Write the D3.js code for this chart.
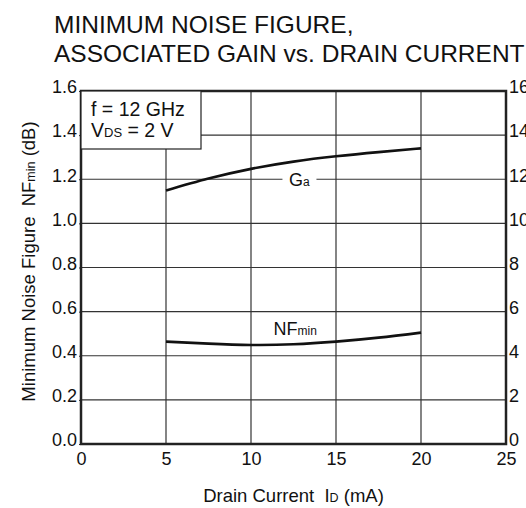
<!DOCTYPE html>
<html>
<head>
<meta charset="utf-8">
<script src="https://cdn.jsdelivr.net/npm/d3@7"></script>
<style>
  html, body { margin: 0; padding: 0; background: #fff; }
  #chart { width: 526px; height: 508px; overflow: hidden; }
  text { font-family: "Liberation Sans", Arial, Helvetica, sans-serif; fill: #111; white-space: pre; }
</style>
</head>
<body>
<div id="chart"></div>
<script>
// drain current (mA)
const current = [5, 7.5, 10, 12.5, 15, 17.5, 20];
// minimum noise figure (dB), left axis
const nfMin = [0.464, 0.455, 0.449, 0.452, 0.464, 0.482, 0.505];
// associated gain (dB), right axis
const gainA = [11.49, 12.03, 12.47, 12.80, 13.04, 13.23, 13.40];

const xTicks = [0, 5, 10, 15, 20, 25];
const yLeftTicks = [0.0, 0.2, 0.4, 0.6, 0.8, 1.0, 1.2, 1.4, 1.6];
const yRightTicks = [0, 2, 4, 6, 8, 10, 12, 14, 16];

const chart = {};
chart.width_svg = 526;
chart.height_svg = 508;
chart.margin = {top: 91, right: 20, bottom: 64, left: 81};

chart.svg = d3.select('#chart')
              .append('svg')
              .attr('width', chart.width_svg)
              .attr('height', chart.height_svg);

chart.draw = function(){
  let margin = this.margin,
      width_svg = this.width_svg,
      height_svg = this.height_svg,
      svg = this.svg;
  let x0 = margin.left, x1 = width_svg - margin.right,
      y0 = height_svg - margin.bottom, y1 = margin.top;

  let xScale = d3.scaleLinear().domain([0, 25]).range([x0, x1]);
  let yLeft = d3.scaleLinear().domain([0, 1.6]).range([y0, y1]);
  let yRight = d3.scaleLinear().domain([0, 16]).range([y0, y1]);

  // title
  let title = svg.append('g').attr('font-size', 24.5);
  title.append('text').attr('x', 54).attr('y', 33).text('MINIMUM NOISE FIGURE,');
  title.append('text').attr('x', 54).attr('y', 62).text('ASSOCIATED GAIN vs. DRAIN CURRENT');

  // grid
  let grid = svg.append('g').attr('stroke', '#333').attr('stroke-width', 1.2);
  grid.selectAll('line.v')
      .data(xTicks.slice(1, -1))
      .enter().append('line')
      .attr('x1', d => xScale(d)).attr('x2', d => xScale(d))
      .attr('y1', y1).attr('y2', y0);
  grid.selectAll('line.h')
      .data(yLeftTicks.slice(1, -1))
      .enter().append('line')
      .attr('x1', x0).attr('x2', x1)
      .attr('y1', d => yLeft(d)).attr('y2', d => yLeft(d));

  // left axis
  svg.append('g')
     .attr('transform', `translate(${x0}, 0)`)
     .call(d3.axisLeft(yLeft).tickValues(yLeftTicks).tickFormat(d3.format('.1f')).tickSize(2).tickPadding(2))
     .call(g => g.select('.domain').remove())
     .call(g => g.selectAll('.tick line').attr('stroke', '#333'))
     .call(g => g.selectAll('.tick text').attr('font-size', 18).attr('font-family', null).attr('fill', '#111').attr('dy', '0.1em'));

  // right axis
  svg.append('g')
     .attr('transform', `translate(${x1}, 0)`)
     .call(d3.axisRight(yRight).tickValues(yRightTicks).tickFormat(d3.format('d')).tickSize(0).tickPadding(3))
     .call(g => g.select('.domain').remove())
     .call(g => g.selectAll('.tick text').attr('font-size', 18).attr('font-family', null).attr('fill', '#111').attr('dy', '0.1em'));

  // bottom axis
  svg.append('g')
     .attr('transform', `translate(0, ${y0})`)
     .call(d3.axisBottom(xScale).tickValues(xTicks).tickSize(0).tickPadding(8))
     .call(g => g.select('.domain').remove())
     .call(g => g.selectAll('.tick text').attr('font-size', 18).attr('font-family', null).attr('fill', '#111'));

  // frame
  svg.append('rect')
     .attr('x', x0).attr('y', y1)
     .attr('width', x1 - x0).attr('height', y0 - y1)
     .attr('fill', 'none').attr('stroke', '#222').attr('stroke-width', 2.5);

  // condition box
  let box = svg.append('g');
  box.append('rect')
     .attr('x', x0).attr('y', y1)
     .attr('width', 120).attr('height', 58)
     .attr('fill', '#fff').attr('stroke', '#222').attr('stroke-width', 1.2);
  box.append('text').attr('x', x0 + 10).attr('y', y1 + 25).attr('font-size', 19.5).text('f = 12 GHz');
  let vds = box.append('text').attr('x', x0 + 10).attr('y', y1 + 46).attr('font-size', 19.5);
  vds.append('tspan').text('V');
  vds.append('tspan').attr('font-size', 13).text('DS');
  vds.append('tspan').text(' = 2 V');

  // curves
  let line = d3.line().curve(d3.curveNatural);
  svg.append('path')
     .attr('fill', 'none').attr('stroke', '#111').attr('stroke-width', 2.6)
     .attr('d', line.x(d => xScale(d[0])).y(d => yRight(d[1]))(d3.zip(current, gainA)));
  svg.append('path')
     .attr('fill', 'none').attr('stroke', '#111').attr('stroke-width', 2.6)
     .attr('d', line.x(d => xScale(d[0])).y(d => yLeft(d[1]))(d3.zip(current, nfMin)));

  // curve labels
  let gaLabel = svg.append('g').attr('transform', `translate(${xScale(12.85)}, ${yLeft(1.2)})`);
  gaLabel.append('rect').attr('x', -17).attr('y', -8).attr('width', 34).attr('height', 16).attr('fill', '#fff');
  let gaText = gaLabel.append('text').attr('text-anchor', 'middle').attr('y', 6.5).attr('font-size', 18);
  gaText.append('tspan').text('G');
  gaText.append('tspan').attr('font-size', 12).text('a');

  let nfText = svg.append('text')
                  .attr('x', xScale(12.6)).attr('y', yLeft(0.495))
                  .attr('text-anchor', 'middle').attr('font-size', 18);
  nfText.append('tspan').text('NF');
  nfText.append('tspan').attr('font-size', 12).text('min');

  // axis titles
  let xTitle = svg.append('text')
                  .attr('x', (x0 + x1) / 2).attr('y', 502)
                  .attr('text-anchor', 'middle').attr('font-size', 18.5);
  xTitle.append('tspan').text('Drain Current  I');
  xTitle.append('tspan').attr('font-size', 12.5).text('D');
  xTitle.append('tspan').text(' (mA)');

  let yTitle = svg.append('text')
                  .attr('transform', `translate(35, ${(y0 + y1) / 2 - 6}) rotate(-90)`)
                  .attr('text-anchor', 'middle').attr('font-size', 18.5);
  yTitle.append('tspan').text('Minimum Noise Figure  NF');
  yTitle.append('tspan').attr('font-size', 12.5).text('min');
  yTitle.append('tspan').text(' (dB)');
};

chart.draw();
</script>
</body>
</html>
